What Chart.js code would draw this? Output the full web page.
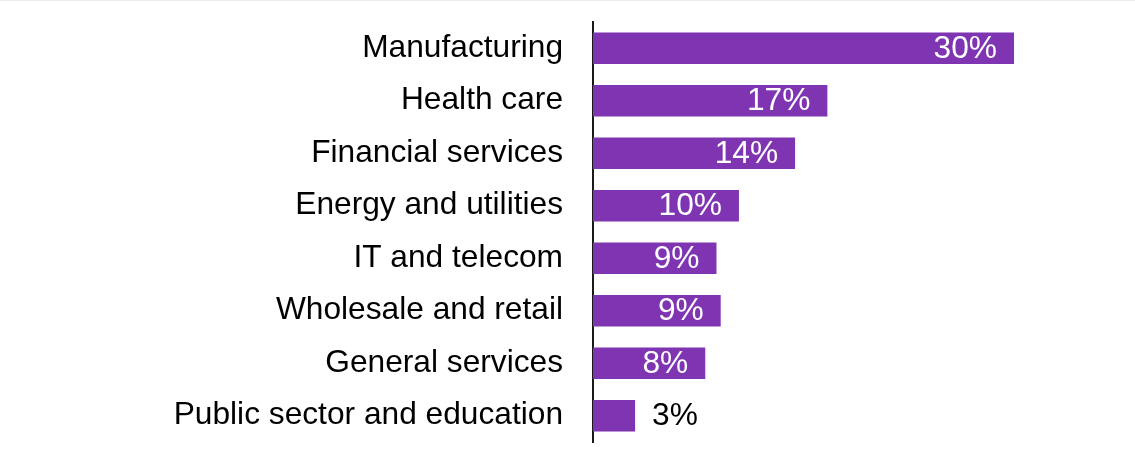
<!DOCTYPE html>
<html>
<head>
<meta charset="utf-8">
<script src="https://cdn.jsdelivr.net/npm/chart.js@4/dist/chart.umd.min.js"></script>
<style>
  html, body { margin: 0; padding: 0; background: #fff; }
  body { width: 1135px; height: 459px; overflow: hidden; position: relative; }
  .topline { position: absolute; left: 0; top: 0; width: 1135px; height: 1px; background: #ececec; }
  canvas { display: block; }
</style>
</head>
<body>
<div class="topline"></div>
<canvas id="chart" width="1135" height="459"></canvas>
<script>
// Share of respondents by industry (%)
const industries = [
  'Manufacturing',
  'Health care',
  'Financial services',
  'Energy and utilities',
  'IT and telecom',
  'Wholesale and retail',
  'General services',
  'Public sector and education'
];
const shares = [30.0, 16.7, 14.4, 10.4, 8.8, 9.1, 8.0, 3.0];

const BAR_COLOR = '#7f35b2';
const FONT = "'Liberation Sans', Arial, Helvetica, sans-serif";
const FONT_SIZE = 31.7;

Chart.defaults.font.family = FONT;
Chart.defaults.font.size = FONT_SIZE;
Chart.defaults.color = '#000';

// Percentage labels: white inside the bar end, or black just past it when the bar is too short
const barValueLabels = {
  id: 'barValueLabels',
  afterDatasetsDraw(chart) {
    const ctx = chart.ctx;
    const meta = chart.getDatasetMeta(0);
    const gap = 17;
    ctx.save();
    ctx.font = FONT_SIZE + 'px ' + FONT;
    ctx.textBaseline = 'middle';
    meta.data.forEach((bar, i) => {
      const text = Math.round(shares[i]) + '%';
      const w = ctx.measureText(text).width;
      const barLen = bar.x - bar.base;
      if (w + gap * 2 <= barLen) {
        ctx.fillStyle = '#fff';
        ctx.textAlign = 'right';
        ctx.fillText(text, bar.x - gap, bar.y + 1);
      } else {
        ctx.fillStyle = '#000';
        ctx.textAlign = 'left';
        ctx.fillText(text, bar.x + gap, bar.y + 1);
      }
    });
    ctx.restore();
  }
};

new Chart(document.getElementById('chart'), {
  type: 'bar',
  data: {
    labels: industries,
    datasets: [{
      data: shares,
      backgroundColor: BAR_COLOR,
      borderWidth: 0,
      barPercentage: 0.6,
      categoryPercentage: 1.0
    }]
  },
  options: {
    indexAxis: 'y',
    responsive: false,
    animation: false,
    devicePixelRatio: 1,
    layout: { padding: { left: 0, right: 121, top: 22, bottom: 17 } },
    plugins: {
      legend: { display: false },
      tooltip: { enabled: false }
    },
    scales: {
      x: {
        display: false,
        min: 0,
        max: 30
      },
      y: {
        afterFit(scale) {
          scale.width = 593;
          scale.paddingTop = 0;
          scale.paddingBottom = 0;
        },
        grid: { display: false, drawTicks: false },
        border: { display: true, color: '#1a1a1a', width: 2 },
        ticks: {
          padding: 30,
          color: '#000',
          font: { size: FONT_SIZE, family: FONT }
        }
      }
    }
  },
  plugins: [barValueLabels]
});
</script>
</body>
</html>
